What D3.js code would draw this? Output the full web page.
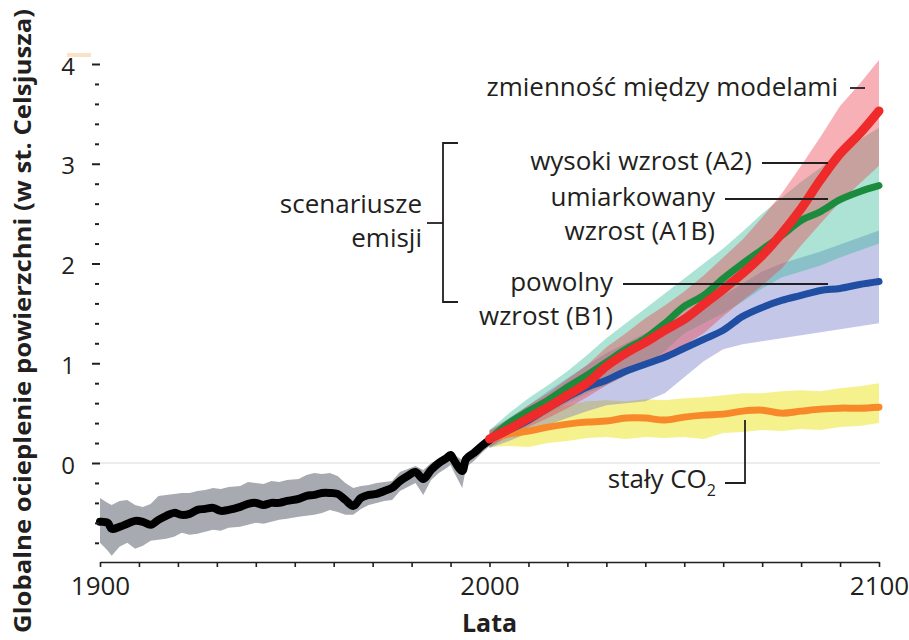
<!DOCTYPE html>
<html>
<head>
<meta charset="utf-8">
<script src="https://cdn.jsdelivr.net/npm/d3@7"></script>
<style>
  body { margin: 0; background: #fff; }
  text { font-family: "Open Sans", "Noto Sans", sans-serif; fill: #231f20; }
</style>
</head>
<body>
<svg id="chart" width="909" height="640"></svg>
<script>
'use strict';

// historical record (black line, grey range)
const histYears = [1900, 1902, 1903, 1905, 1907, 1909, 1911, 1913, 1915, 1917, 1919, 1921, 1923, 1925, 1927, 1929, 1931, 1933, 1936, 1938,
  1940, 1942, 1944, 1946, 1948, 1951, 1953, 1955, 1957, 1959, 1961, 1963, 1965, 1967, 1969, 1971, 1973, 1975, 1977, 1979,
  1981, 1983, 1985, 1987, 1989, 1990, 1991, 1993, 1994, 1996, 1998, 2000];
const histMean = [-0.59, -0.60, -0.66, -0.64, -0.61, -0.58, -0.59, -0.62, -0.57, -0.53, -0.50, -0.52, -0.51, -0.47, -0.46, -0.45, -0.48, -0.47, -0.44, -0.41,
  -0.40, -0.42, -0.40, -0.40, -0.38, -0.36, -0.33, -0.32, -0.30, -0.30, -0.31, -0.37, -0.43, -0.35, -0.32, -0.31, -0.28, -0.25, -0.18, -0.13,
  -0.09, -0.16, -0.07, 0.00, 0.05, 0.08, 0.02, -0.08, 0.04, 0.10, 0.17, 0.23];
const histLo = [-0.80, -0.88, -0.93, -0.84, -0.80, -0.86, -0.83, -0.78, -0.77, -0.76, -0.74, -0.70, -0.72, -0.71, -0.69, -0.67, -0.68, -0.65, -0.64, -0.62,
  -0.60, -0.61, -0.59, -0.57, -0.56, -0.54, -0.53, -0.52, -0.50, -0.47, -0.49, -0.52, -0.52, -0.46, -0.42, -0.40, -0.38, -0.37, -0.28, -0.24,
  -0.20, -0.32, -0.17, -0.10, -0.05, -0.02, -0.10, -0.25, -0.04, 0.02, 0.10, 0.17];
const histHi = [-0.35, -0.40, -0.42, -0.38, -0.37, -0.42, -0.44, -0.41, -0.33, -0.32, -0.31, -0.30, -0.30, -0.28, -0.27, -0.25, -0.26, -0.24, -0.23, -0.19,
  -0.20, -0.21, -0.18, -0.19, -0.17, -0.16, -0.12, -0.10, -0.11, -0.10, -0.13, -0.20, -0.25, -0.23, -0.22, -0.20, -0.19, -0.18, -0.09, -0.06,
  -0.03, -0.07, 0.00, 0.04, 0.10, 0.12, 0.08, 0.03, 0.10, 0.15, 0.21, 0.27];

// scenario projections
const projYears = [2000, 2005, 2010, 2015, 2020, 2025, 2030, 2035, 2040, 2045, 2050, 2055, 2060, 2065, 2070, 2075, 2080, 2085, 2090, 2095, 2100];

const a2Mean = [0.24, 0.34, 0.45, 0.56, 0.68, 0.80, 0.97, 1.10, 1.21, 1.33, 1.44, 1.59, 1.74, 1.90, 2.08, 2.30, 2.55, 2.84, 3.10, 3.30, 3.53];
const a2Lo = [0.16, 0.27, 0.36, 0.45, 0.55, 0.66, 0.78, 0.88, 0.97, 1.06, 1.18, 1.30, 1.47, 1.63, 1.78, 1.95, 2.18, 2.40, 2.62, 2.80, 2.98];
const a2Hi = [0.32, 0.44, 0.58, 0.70, 0.84, 0.98, 1.16, 1.30, 1.45, 1.58, 1.72, 1.88, 2.06, 2.24, 2.46, 2.70, 2.98, 3.27, 3.58, 3.80, 4.04];

const a1bMean = [0.24, 0.40, 0.52, 0.63, 0.76, 0.88, 1.01, 1.14, 1.25, 1.40, 1.57, 1.68, 1.85, 2.00, 2.14, 2.28, 2.43, 2.52, 2.64, 2.72, 2.78];
const a1bLo = [0.15, 0.28, 0.38, 0.50, 0.60, 0.70, 0.78, 0.88, 0.98, 1.12, 1.30, 1.40, 1.50, 1.62, 1.75, 1.86, 1.92, 1.98, 2.06, 2.13, 2.20];
const a1bHi = [0.33, 0.50, 0.65, 0.78, 0.92, 1.08, 1.25, 1.40, 1.55, 1.70, 1.85, 2.00, 2.15, 2.32, 2.50, 2.66, 2.82, 2.96, 3.12, 3.24, 3.36];

const b1Mean = [0.24, 0.33, 0.43, 0.55, 0.66, 0.76, 0.83, 0.92, 0.99, 1.06, 1.15, 1.24, 1.33, 1.47, 1.56, 1.63, 1.68, 1.73, 1.75, 1.79, 1.82];
const b1Lo = [0.15, 0.22, 0.30, 0.38, 0.45, 0.52, 0.58, 0.60, 0.62, 0.70, 0.86, 1.02, 1.14, 1.19, 1.22, 1.25, 1.28, 1.31, 1.34, 1.37, 1.40];
const b1Hi = [0.33, 0.45, 0.58, 0.72, 0.85, 0.98, 1.10, 1.20, 1.30, 1.37, 1.45, 1.55, 1.68, 1.80, 1.92, 2.00, 2.06, 2.12, 2.19, 2.26, 2.33];

const co2Mean = [0.24, 0.29, 0.32, 0.36, 0.39, 0.41, 0.42, 0.45, 0.45, 0.43, 0.46, 0.48, 0.49, 0.52, 0.53, 0.50, 0.52, 0.54, 0.55, 0.55, 0.56];
const co2Lo = [0.16, 0.17, 0.16, 0.20, 0.22, 0.25, 0.26, 0.24, 0.26, 0.25, 0.26, 0.24, 0.30, 0.31, 0.33, 0.32, 0.34, 0.33, 0.36, 0.37, 0.40];
const co2Hi = [0.32, 0.42, 0.48, 0.55, 0.58, 0.62, 0.63, 0.62, 0.64, 0.63, 0.65, 0.66, 0.68, 0.70, 0.70, 0.72, 0.73, 0.72, 0.75, 0.77, 0.80];

// ticks
const yMajor = [0, 1, 2, 3, 4];
const yMinor = [-0.8, -0.6, -0.4, -0.2, 0.2, 0.4, 0.6, 0.8, 1.2, 1.4, 1.6, 1.8, 2.2, 2.4, 2.6, 2.8, 3.2, 3.4, 3.6, 3.8];
const xMajor = [1900, 2000, 2100];
const xMinor = [1910, 1920, 1930, 1940, 1950, 1960, 1970, 1980, 1990, 2010, 2020, 2030, 2040, 2050, 2060, 2070, 2080, 2090];

const svg = d3.select('#chart');

const x = d3.scaleLinear().domain([1900, 2100]).range([100, 879]);
const y = d3.scaleLinear().domain([0, 4]).range([463, 64]);

function rows(years, mean, lo, hi) {
  return years.map(function(yr, i) {
    return { year: yr, mean: mean[i], lo: lo[i], hi: hi[i] };
  });
}

const hist = rows(histYears, histMean, histLo, histHi);
const a2 = rows(projYears, a2Mean, a2Lo, a2Hi);
const a1b = rows(projYears, a1bMean, a1bLo, a1bHi);
const b1 = rows(projYears, b1Mean, b1Lo, b1Hi);
const co2 = rows(projYears, co2Mean, co2Lo, co2Hi);

const band = d3.area()
  .x(d => x(d.year))
  .y0(d => y(d.lo))
  .y1(d => y(d.hi));

const line = d3.line()
  .curve(d3.curveCatmullRom)
  .x(d => x(d.year))
  .y(d => y(d.mean));

// zero reference line
svg.append('line')
  .attr('x1', x(1900)).attr('x2', x(2100) + 1)
  .attr('y1', y(0)).attr('y2', y(0))
  .attr('stroke', '#d9d9d9').attr('stroke-width', 1);

// small stray mark near the top of the axis
svg.append('rect')
  .attr('x', 67).attr('y', 53).attr('width', 24).attr('height', 4)
  .attr('fill', '#f8e3c6');

// ranges
svg.append('path').datum(hist).attr('d', band).attr('fill', '#a7abb1');
svg.append('path').datum(co2).attr('d', band).attr('fill', 'rgba(236,230,45,0.55)');
svg.append('path').datum(b1).attr('d', band).attr('fill', 'rgba(110,115,200,0.40)');
svg.append('path').datum(a1b).attr('d', band).attr('fill', 'rgba(50,185,150,0.40)');
svg.append('path').datum(a2).attr('d', band).attr('fill', 'rgba(235,70,80,0.42)');

// mean lines
const lines = [
  { data: hist, color: '#000000', width: 8 },
  { data: co2, color: '#f7892a', width: 7 },
  { data: b1, color: '#1f4ea3', width: 7 },
  { data: a1b, color: '#1b8c3e', width: 7 },
  { data: a2, color: '#ee2a2a', width: 9 }
];
lines.forEach(function(l) {
  svg.append('path').datum(l.data)
    .attr('d', line)
    .attr('fill', 'none')
    .attr('stroke', l.color)
    .attr('stroke-width', l.width)
    .attr('stroke-linejoin', 'round')
    .attr('stroke-linecap', 'round');
});

// y axis (ticks only)
const yAxisMinor = svg.append('g')
  .attr('transform', 'translate(99,0)')
  .call(d3.axisLeft(y).tickValues(yMinor).tickSize(4).tickFormat(''));
const yAxisMajor = svg.append('g')
  .attr('transform', 'translate(100,0)')
  .call(d3.axisLeft(y).tickValues(yMajor).tickSize(8).tickPadding(17).tickFormat(d3.format('d')));
[yAxisMinor, yAxisMajor].forEach(function(g) {
  g.select('.domain').remove();
  g.selectAll('line').attr('stroke', '#231f20').attr('stroke-width', 2);
});
yAxisMajor.selectAll('text')
  .attr('dy', '0.42em')
  .style('font-size', '24px')
  .style('font-family', '"Open Sans", sans-serif')
  .attr('fill', '#231f20');

// x axis
const xAxisMinor = svg.append('g')
  .attr('transform', 'translate(0,562)')
  .call(d3.axisBottom(x).tickValues(xMinor).tickSize(5).tickFormat(''));
xAxisMinor.select('.domain').remove();
const xAxisMajor = svg.append('g')
  .attr('transform', 'translate(0,562)')
  .call(d3.axisBottom(x).tickValues(xMajor).tickSize(5).tickSizeOuter(0).tickPadding(10).tickFormat(d3.format('d')));
xAxisMajor.select('.domain').attr('stroke', '#231f20').attr('stroke-width', 1.6);
[xAxisMinor, xAxisMajor].forEach(function(g) {
  g.selectAll('line').attr('stroke', '#231f20').attr('stroke-width', 1.6);
});
xAxisMajor.selectAll('text')
  .style('font-size', '26px')
  .style('font-family', '"Open Sans", sans-serif')
  .attr('fill', '#231f20');

// axis titles
svg.append('text')
  .attr('x', x(2000)).attr('y', 632)
  .attr('text-anchor', 'middle')
  .style('font-size', '25px').style('font-weight', 'bold')
  .text('Lata');

svg.append('text')
  .attr('transform', 'translate(31,321) rotate(-90)')
  .attr('text-anchor', 'middle')
  .attr('textLength', 624).attr('lengthAdjust', 'spacingAndGlyphs')
  .style('font-size', '23px').style('font-weight', 'bold')
  .text('Globalne ocieplenie powierzchni (w st. Celsjusza)');

// annotations
const labels = [
  { text: 'zmienność między modelami', x: 838, y: 96 },
  { text: 'wysoki wzrost (A2)', x: 752, y: 170 },
  { text: 'umiarkowany', x: 715, y: 206 },
  { text: 'wzrost (A1B)', x: 715, y: 240 },
  { text: 'powolny', x: 613, y: 291 },
  { text: 'wzrost (B1)', x: 613, y: 325 },
  { text: 'scenariusze', x: 422, y: 213 },
  { text: 'emisji', x: 422, y: 247 }
];
svg.selectAll('text.note')
  .data(labels)
  .enter().append('text')
  .attr('class', 'note')
  .attr('x', d => d.x).attr('y', d => d.y)
  .attr('text-anchor', 'end')
  .style('font-size', '26px')
  .text(d => d.text);

const co2Label = svg.append('text')
  .attr('x', 716).attr('y', 488)
  .attr('text-anchor', 'end')
  .style('font-size', '26px');
co2Label.append('tspan').text('stały CO');
co2Label.append('tspan').attr('dy', 8).style('font-size', '16px').text('2');

const leaders = [
  [[850, 88], [865, 88]],
  [[762, 163], [828, 163]],
  [[725, 199], [828, 199]],
  [[623, 284], [828, 284]],
  [[725, 483], [745, 483], [745, 420]],
  [[458, 143], [443, 143], [443, 302], [458, 302]],
  [[427, 223], [443, 223]]
];
svg.selectAll('path.leader')
  .data(leaders)
  .enter().append('path')
  .attr('class', 'leader')
  .attr('d', d3.line())
  .attr('fill', 'none')
  .attr('stroke', '#231f20')
  .attr('stroke-width', 1.8);
</script>
</body>
</html>
